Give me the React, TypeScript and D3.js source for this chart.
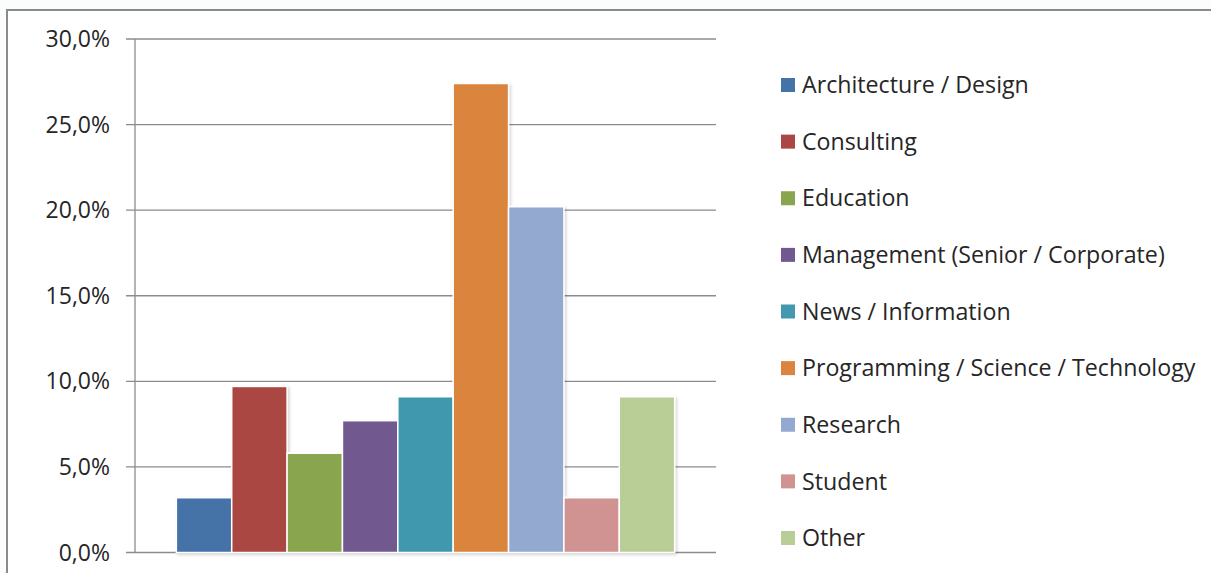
import React from "react";
import * as d3 from "d3";

const categories = [
  "Architecture / Design",
  "Consulting",
  "Education",
  "Management (Senior / Corporate)",
  "News / Information",
  "Programming / Science / Technology",
  "Research",
  "Student",
  "Other",
];
const values = [3.2, 9.7, 5.8, 7.7, 9.1, 27.4, 20.2, 3.2, 9.1];
const colors = [
  "#4572A7",
  "#AA4643",
  "#89A54E",
  "#71588F",
  "#4198AF",
  "#DB843D",
  "#93A9CF",
  "#D19392",
  "#B9CD96",
];
const yTicks = [0, 5, 10, 15, 20, 25, 30];

const W = 1211;
const H = 573;
const plot = { left: 135, right: 716, top: 39, bottom: 552.5 };
const FONT = "'Open Sans', 'DejaVu Sans', sans-serif";

export default function App() {
  const y = d3.scaleLinear().domain([0, 30]).range([plot.bottom, plot.top]);
  const group = d3
    .scaleBand<string>()
    .domain(["g"])
    .range([plot.left, plot.right])
    .paddingInner(0)
    .paddingOuter(0.083);
  const x = d3
    .scaleBand<string>()
    .domain(categories)
    .range([group("g")!, group("g")! + group.bandwidth()])
    .padding(0);
  const fmt = (v: number) => d3.format(".1f")(v).replace(".", ",") + "%";

  const legendY = d3
    .scalePoint<string>()
    .domain(categories)
    .range([85, 538]);

  return (
    <svg
      width={W}
      height={H}
      style={{ position: "absolute", left: 0, top: 0, background: "#fdfdfd" }}
    >
      <defs>
        <filter id="sh" x="-20%" y="-20%" width="140%" height="140%">
          <feDropShadow dx="1.5" dy="1.5" stdDeviation="1.5" floodColor="#000" floodOpacity="0.18" />
        </filter>
      </defs>
      <rect x={0} y={0} width={W} height={H} fill="#fbfcfc" />
      <rect x={7} y={10} width={W + 10} height={H + 10} fill="#ffffff" stroke="#8a8a8a" strokeWidth={2} />

      {/* gridlines */}
      {yTicks.map((t) => (
        <line
          key={t}
          x1={plot.left - 9}
          x2={plot.right}
          y1={y(t)}
          y2={y(t)}
          stroke="#8c8c8c"
          strokeWidth={1.3}
        />
      ))}
      <line x1={plot.left} x2={plot.left} y1={plot.top} y2={plot.bottom} stroke="#8c8c8c" strokeWidth={1.3} />

      {/* tick labels */}
      {yTicks.map((t) => (
        <text
          key={"l" + t}
          x={110}
          y={y(t)}
          dy="0.35em"
          textAnchor="end"
          fontFamily={FONT}
          fontSize={23}
          fill="#262626"
        >
          {fmt(t)}
        </text>
      ))}

      {/* bars */}
      <g filter="url(#sh)">
        {categories.map((c, i) => (
          <rect
            key={c}
            x={x(c)!}
            y={y(values[i])}
            width={x.bandwidth()}
            height={plot.bottom - y(values[i])}
            fill={colors[i]}
            stroke="#ffffff"
            strokeWidth={1.5}
          />
        ))}
      </g>

      {/* legend */}
      {categories.map((c, i) => (
        <g key={"lg" + c} transform={`translate(781, ${legendY(c)})`}>
          <rect x={0} y={-7} width={14} height={14} fill={colors[i]} />
          <text x={21} y={0} dy="0.35em" fontFamily={FONT} fontSize={23.2} fill="#262626">
            {c}
          </text>
        </g>
      ))}
    </svg>
  );
}
